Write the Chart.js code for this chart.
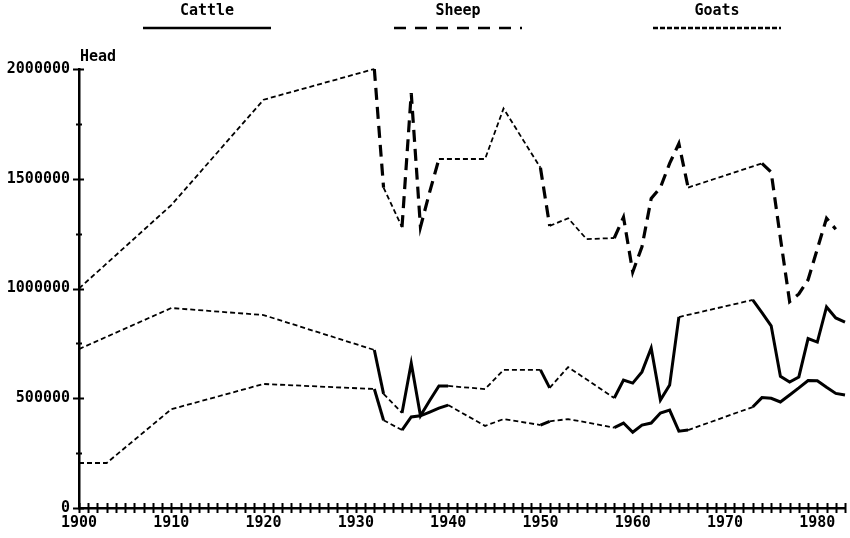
<!DOCTYPE html>
<html>
<head>
<meta charset="utf-8">
<script src="https://cdn.jsdelivr.net/npm/chart.js@4.4.0/dist/chart.umd.min.js"></script>
<style>
  html, body { margin: 0; padding: 0; background: #fff; }
  #wrap { width: 850px; height: 538px; }
</style>
</head>
<body>
<div id="wrap"><canvas id="herd"></canvas></div>
<script>
// livestock numbers, head
const sheepYears = [1900, 1910, 1920, 1932, 1933, 1935, 1936, 1937, 1938, 1939, 1944, 1946, 1950, 1951, 1953, 1955, 1958, 1959, 1960, 1961, 1962, 1963, 1964, 1965, 1966, 1974, 1975, 1976, 1977, 1978, 1979, 1980, 1981, 1982];
const sheep = [1000000, 1380000, 1860000, 2000000, 1460000, 1280000, 1890000, 1280000, 1440000, 1590000, 1590000, 1820000, 1550000, 1285000, 1320000, 1225000, 1230000, 1325000, 1075000, 1190000, 1410000, 1460000, 1570000, 1660000, 1460000, 1570000, 1530000, 1230000, 940000, 975000, 1040000, 1180000, 1320000, 1270000];

const goatYears = [1900, 1910, 1920, 1932, 1933, 1935, 1936, 1937, 1938, 1939, 1940, 1944, 1946, 1950, 1951, 1953, 1958, 1959, 1960, 1961, 1962, 1963, 1964, 1965, 1973, 1974, 1975, 1976, 1977, 1978, 1979, 1980, 1981, 1982, 1983];
const goats = [724000, 911000, 879000, 720000, 520000, 433000, 660000, 420000, 490000, 556000, 556000, 542000, 629000, 629000, 547000, 642000, 501000, 583000, 569000, 620000, 729000, 492000, 560000, 870000, 948000, 890000, 830000, 600000, 574000, 597000, 772000, 756000, 916000, 866000, 847000];

const cattleYears = [1900, 1903, 1910, 1920, 1932, 1933, 1935, 1936, 1937, 1938, 1939, 1940, 1944, 1946, 1950, 1951, 1953, 1955, 1958, 1959, 1960, 1961, 1962, 1963, 1964, 1965, 1966, 1973, 1974, 1975, 1976, 1977, 1978, 1979, 1980, 1981, 1982, 1983];
const cattle = [205000, 205000, 450000, 565000, 542000, 400000, 355000, 415000, 420000, 437000, 455000, 469000, 374000, 405000, 378000, 395000, 405000, 390000, 366000, 387000, 345000, 378000, 387000, 433000, 446000, 350000, 355000, 460000, 503000, 500000, 483000, 515000, 547000, 581000, 580000, 550000, 522000, 515000];

const yTicks = [0, 500000, 1000000, 1500000, 2000000];
const xTicks = [1900, 1910, 1920, 1930, 1940, 1950, 1960, 1970, 1980];

const FONT = 'DejaVu Sans Mono';
const fineDash = [5, 3];

function pts(years, vals) {
    return years.map((y, i) => ({ x: y, y: vals[i] }));
}

// years with no record in between are joined by a thin dotted line
function seg(dash, width) {
    return {
        borderDash: c => (c.p1.parsed.x - c.p0.parsed.x > 1 ? fineDash : dash),
        borderWidth: c => (c.p1.parsed.x - c.p0.parsed.x > 1 ? 1.8 : width)
    };
}

const series = [
    { label: 'Cattle', data: pts(cattleYears, cattle), dash: [], width: 3, legendDash: [], cx: 207 },
    { label: 'Sheep', data: pts(sheepYears, sheep), dash: [12, 7], width: 3.2, legendDash: [12, 9], cx: 458 },
    { label: 'Goats', data: pts(goatYears, goats), dash: [], width: 3, legendDash: [5, 2], cx: 717 }
];

const extras = {
    id: 'extras',
    afterDraw(chart) {
        const ctx = chart.ctx;
        const xs = chart.scales.x, ys = chart.scales.y;
        const area = chart.chartArea;
        ctx.save();
        ctx.strokeStyle = '#000';
        ctx.fillStyle = '#000';
        ctx.lineWidth = 2;
        // year ticks crossing the x axis
        for (let yr = 1900; yr <= 1983; yr++) {
            const px = Math.round(xs.getPixelForValue(yr)) + 0.5;
            ctx.beginPath();
            ctx.moveTo(px, area.bottom - 5);
            ctx.lineTo(px, area.bottom + 5);
            ctx.stroke();
        }
        // y ticks every 250000
        for (let v = 0; v <= 2000000; v += 250000) {
            const py = Math.round(ys.getPixelForValue(v)) + 0.5;
            const major = v % 500000 === 0;
            ctx.beginPath();
            ctx.moveTo(area.left - (major ? 6 : 3), py);
            ctx.lineTo(area.left + (major ? 5 : 3), py);
            ctx.stroke();
        }
        ctx.font = 'bold 15px "' + FONT + '"';
        ctx.textBaseline = 'alphabetic';
        ctx.textAlign = 'left';
        ctx.fillText('Head', area.left + 1, 61);
        // legend: name above a line sample
        ctx.textAlign = 'center';
        series.forEach(s => {
            ctx.fillText(s.label, s.cx, 15);
            ctx.setLineDash(s.legendDash);
            ctx.lineWidth = 2.5;
            ctx.beginPath();
            ctx.moveTo(s.cx - 64, 28);
            ctx.lineTo(s.cx + 64, 28);
            ctx.stroke();
        });
        ctx.restore();
    }
};

new Chart(document.getElementById('herd'), {
    type: 'line',
    data: {
        datasets: series.map(s => ({
            label: s.label,
            data: s.data,
            borderColor: '#000',
            borderWidth: s.width,
            borderDash: s.dash,
            borderCapStyle: 'butt',
            borderJoinStyle: 'miter',
            pointRadius: 0,
            tension: 0,
            fill: false,
            clip: 6,
            segment: seg(s.dash, s.width)
        }))
    },
    options: {
        responsive: true,
        maintainAspectRatio: false,
        animation: false,
        layout: { padding: { top: 69, right: 5, left: 0, bottom: 0 } },
        plugins: { legend: { display: false }, tooltip: { enabled: false } },
        scales: {
            x: {
                type: 'linear',
                min: 1900,
                max: 1983,
                afterFit: s => { s.height = 30; },
                afterBuildTicks: s => { s.ticks = xTicks.map(v => ({ value: v })); },
                grid: { display: false, drawTicks: false },
                border: { display: true, color: '#000', width: 2.5 },
                ticks: {
                    padding: 6,
                    color: '#000',
                    maxRotation: 0,
                    autoSkip: false,
                    font: { family: FONT, size: 15, weight: 'bold' },
                    callback: v => String(v)
                }
            },
            y: {
                type: 'linear',
                min: 0,
                max: 2000000,
                afterFit: s => { s.width = 79; },
                afterBuildTicks: s => { s.ticks = yTicks.map(v => ({ value: v })); },
                grid: { display: false, drawTicks: false },
                border: { display: true, color: '#000', width: 2.5 },
                ticks: {
                    padding: 9,
                    color: '#000',
                    font: { family: FONT, size: 15, weight: 'bold' },
                    callback: v => String(v)
                }
            }
        }
    },
    plugins: [extras]
});
</script>
</body>
</html>
